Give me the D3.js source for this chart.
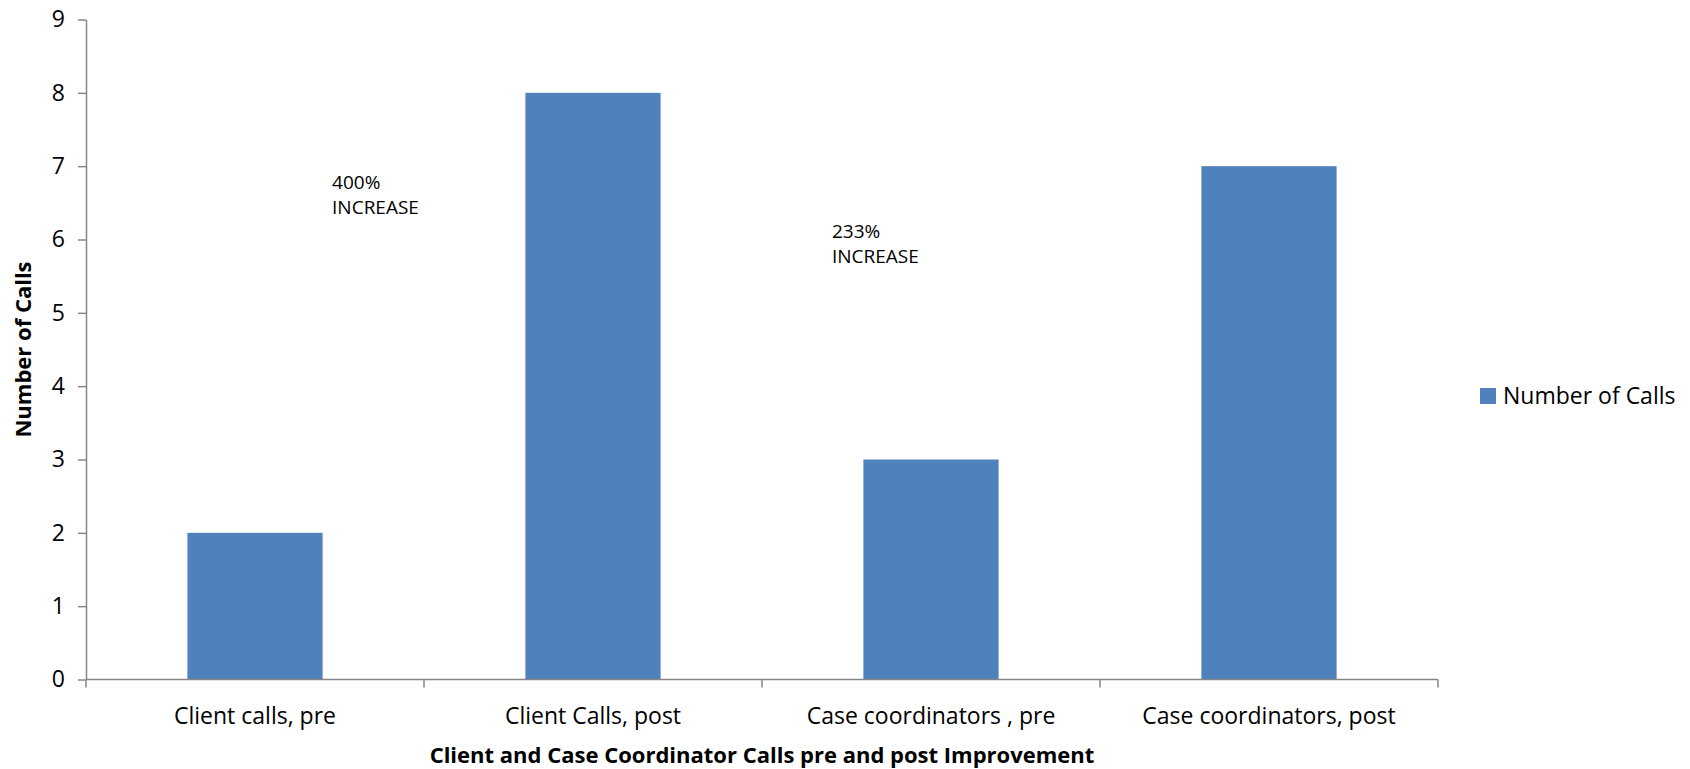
<!DOCTYPE html>
<html>
<head>
<meta charset="utf-8">
<script src="https://cdn.jsdelivr.net/npm/d3@7.9.0/dist/d3.min.js"></script>
<style>
  body { margin: 0; background: #fff; }
  svg { display: block; font-family: 'Open Sans', sans-serif; }
</style>
</head>
<body>
<svg id="chart" width="1690" height="769"></svg>
<script>
const categories = ['Client calls, pre', 'Client Calls, post', 'Case coordinators , pre', 'Case coordinators, post'];
const calls = [2, 8, 3, 7];
const yTicks = [0, 1, 2, 3, 4, 5, 6, 7, 8, 9];
// annotation text, placed by category cell + fraction across it, at a value height
const notes = [
  { lines: ['400%', 'INCREASE'], cat: 0, frac: 0.728, value: 6.69 },
  { lines: ['233%', 'INCREASE'], cat: 2, frac: 0.207, value: 6.02 }
];

const svg = d3.select('#chart');
const plotLeft = 86, plotTop = 19.5, plotW = 1352, plotH = 660;

const x = d3.scaleBand().domain(categories).range([plotLeft, plotLeft + plotW]).paddingInner(0.6).paddingOuter(0.3);
const xCell = d3.scaleBand().domain(categories).range([plotLeft, plotLeft + plotW]);
const y = d3.scaleLinear().domain([0, 9]).range([plotTop + plotH, plotTop]);

// bars
svg.append('g').selectAll('rect')
  .data(calls)
  .join('rect')
  .attr('x', (d, i) => x(categories[i]))
  .attr('y', d => y(d))
  .attr('width', x.bandwidth())
  .attr('height', d => y(0) - y(d))
  .attr('fill', '#4f81bd');

// y axis
const yAxis = svg.append('g')
  .attr('transform', `translate(${plotLeft},0)`)
  .call(d3.axisLeft(y).tickValues(yTicks).tickSize(8).tickPadding(13).tickSizeOuter(0));
yAxis.selectAll('text').attr('font-size', 23).attr('fill', '#000').attr('font-family', 'Open Sans');

// x axis: ticks at the category boundaries
const bounds = categories.map(c => xCell(c)).concat([plotLeft + plotW]);
const xAxis = svg.append('g').attr('transform', `translate(0,${plotTop + plotH})`);
xAxis.append('line').attr('x1', plotLeft).attr('x2', plotLeft + plotW).attr('y1', 0).attr('y2', 0);
xAxis.selectAll('line.tick').data(bounds).join('line')
  .attr('class', 'tick')
  .attr('x1', d => d).attr('x2', d => d).attr('y1', 0).attr('y2', 8);
xAxis.selectAll('text').data(categories).join('text')
  .attr('x', d => xCell(d) + xCell.bandwidth() / 2)
  .attr('y', 44)
  .attr('text-anchor', 'middle')
  .attr('font-size', 23)
  .text(d => d);

svg.selectAll('.domain, .tick line, line').attr('stroke', '#868686').attr('stroke-width', 1.5);

// axis titles
svg.append('text')
  .attr('transform', `translate(31,${plotTop + plotH / 2}) rotate(-90)`)
  .attr('text-anchor', 'middle')
  .attr('font-size', 22)
  .attr('font-weight', 'bold')
  .text('Number of Calls');

svg.append('text')
  .attr('x', plotLeft + plotW / 2)
  .attr('y', 763)
  .attr('text-anchor', 'middle')
  .attr('font-size', 22)
  .attr('font-weight', 'bold')
  .text('Client and Case Coordinator Calls pre and post Improvement');

// annotations
notes.forEach(n => {
  const nx = xCell(categories[n.cat]) + xCell.bandwidth() * n.frac;
  const t = svg.append('text')
    .attr('x', nx)
    .attr('y', y(n.value))
    .attr('font-size', 19);
  n.lines.forEach((l, i) => t.append('tspan')
    .attr('x', nx)
    .attr('dy', i === 0 ? 0 : 25)
    .text(l));
});

// legend
const legend = svg.append('g').attr('transform', 'translate(1480,388)');
legend.append('rect').attr('width', 16).attr('height', 16).attr('fill', '#4f81bd');
legend.append('text').attr('x', 23).attr('y', 16).attr('font-size', 23).text('Number of Calls');
</script>
</body>
</html>
